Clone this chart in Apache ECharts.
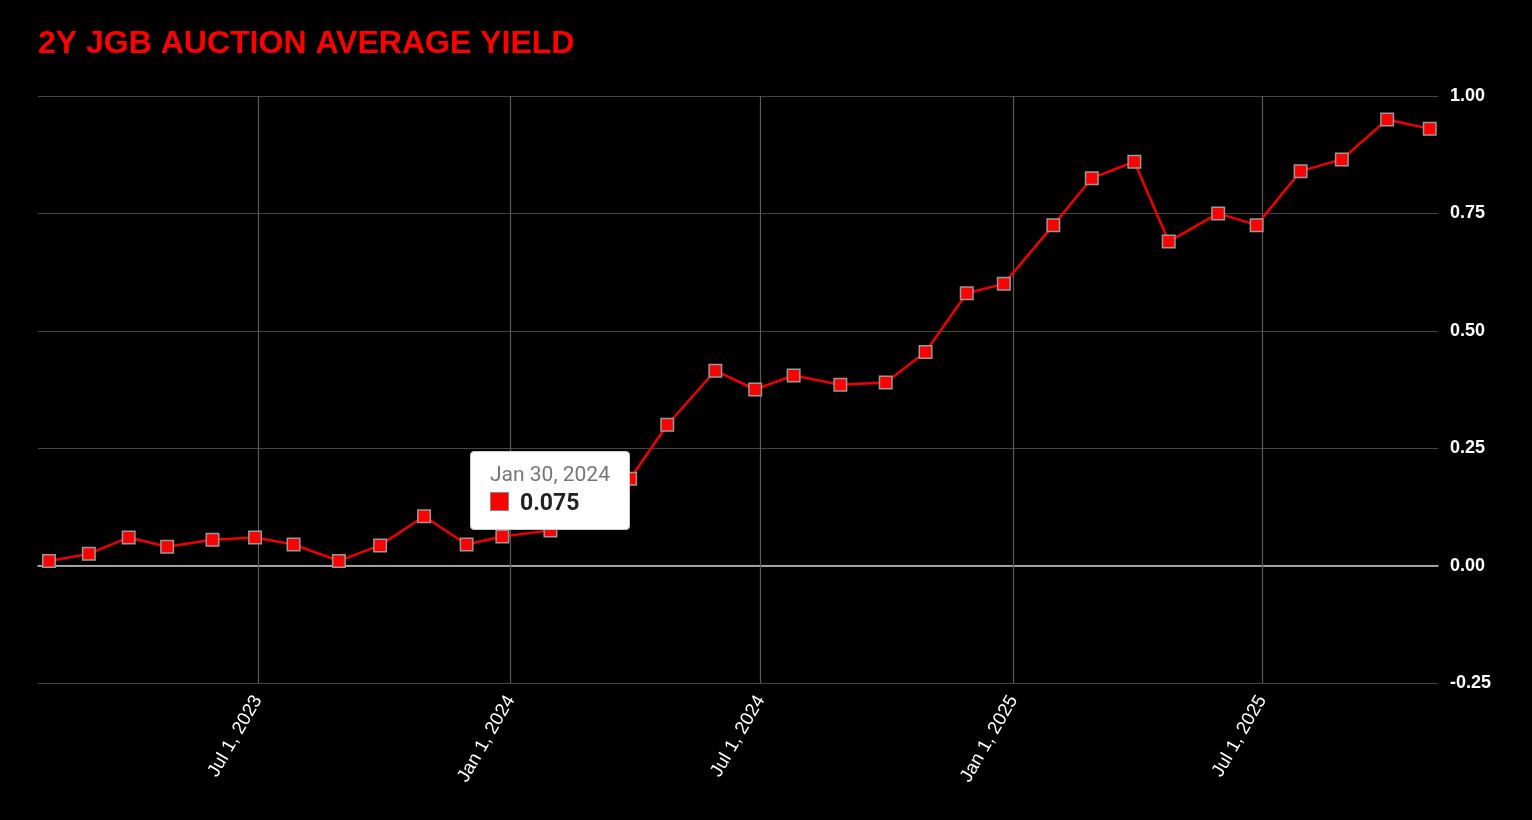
<!DOCTYPE html>
<html>
<head>
<meta charset="utf-8">
<script src="https://cdn.jsdelivr.net/npm/echarts@6/dist/echarts.min.js"></script>
<style>
html,body{margin:0;padding:0;background:#000;}
#chart{width:1532px;height:820px;}
</style>
</head>
<body>
<div id="chart"></div>
<script>
const auctionDates = [
  '2023-01-30','2023-02-28','2023-03-29','2023-04-26','2023-05-29','2023-06-29',
  '2023-07-27','2023-08-29','2023-09-28','2023-10-30','2023-11-30','2023-12-26',
  '2024-01-30','2024-02-29','2024-03-28','2024-04-24','2024-05-29','2024-06-27',
  '2024-07-25','2024-08-28','2024-09-30','2024-10-29','2024-11-28','2024-12-25',
  '2025-01-30','2025-02-27','2025-03-30','2025-04-24','2025-05-30','2025-06-27',
  '2025-07-29','2025-08-28','2025-09-30','2025-10-31'
];
const avgYields = [
  0.01,0.025,0.06,0.04,0.055,0.06,
  0.045,0.01,0.043,0.105,0.045,0.062,
  0.075,0.14,0.185,0.30,0.415,0.375,
  0.405,0.385,0.39,0.455,0.58,0.60,
  0.725,0.825,0.86,0.69,0.75,0.725,
  0.84,0.865,0.95,0.93
];
const xTickDates = ['2023-07-01','2024-01-01','2024-07-01','2025-01-01','2025-07-01'];
const yTicks = [-0.25, 0, 0.25, 0.5, 0.75, 1.0];
const titleText = '2Y JGB AUCTION AVERAGE YIELD';
const monthNames = ['Jan','Feb','Mar','Apr','May','Jun','Jul','Aug','Sep','Oct','Nov','Dec'];

function fmtDate(v){
  const d = new Date(v);
  return monthNames[d.getUTCMonth()] + ' ' + d.getUTCDate() + ', ' + d.getUTCFullYear();
}
function toTs(s){ return Date.parse(s + 'T00:00:00Z'); }

const seriesData = auctionDates.map((d,i)=>[toTs(d), avgYields[i]]);
const tickTs = xTickDates.map(toTs);

const chart = echarts.init(document.getElementById('chart'), null, {renderer:'canvas'});
chart.setOption({
  backgroundColor:'#000',
  animation:false,
  title:{
    text:titleText,
    left:33, top:23,
    textStyle:{color:'#ff0000', fontFamily:'Liberation Sans, Arial', fontWeight:'bold', fontSize:32}
  },
  grid:{left:38, right:94, top:96, bottom:137, containLabel:false},
  tooltip:{
    trigger:'item',
    triggerOn:'none',
    alwaysShowContent:true,
    backgroundColor:'#fff',
    borderColor:'#ccc',
    borderWidth:1,
    borderRadius:4,
    padding:[9,19,10,19],
    extraCssText:'box-shadow:none;',
    position:function(point, params, dom, rect, size){
      return [point[0]-size.contentSize[0]/2, point[1]-size.contentSize[1]];
    },
    formatter:function(p){
      return '<div style="font-family:Roboto,sans-serif;font-size:21px;color:#777;line-height:26px;">' + fmtDate(p.value[0]) + '</div>' +
        '<div style="font-family:Roboto,sans-serif;font-size:23px;font-weight:bold;color:#222;line-height:32px;">' +
        '<span style="display:inline-block;width:17px;height:17px;background:#ff0000;border:1px solid #888;vertical-align:-1px;margin-right:11px;"></span>' +
        p.value[1].toFixed(3) + '</div>';
    }
  },
  xAxis:{
    type:'value',
    min:toTs('2023-01-22'),
    max:toTs('2025-11-06'),
    axisLine:{show:true, onZero:true, lineStyle:{color:'#cccccc', width:1.5}},
    axisTick:{show:false},
    splitLine:{show:false},
    axisLabel:{
      color:'#fff', fontFamily:'Liberation Sans, Arial', fontSize:18.5, rotate:60, margin:14,
      customValues:tickTs,
      formatter:function(v){ return fmtDate(v); }
    }
  },
  yAxis:{
    type:'value',
    position:'right',
    min:yTicks[0], max:yTicks[yTicks.length-1], interval:0.25,
    axisLine:{show:false},
    axisTick:{show:false},
    splitLine:{show:true, lineStyle:{color:'#444', width:1.2}},
    axisLabel:{
      color:'#fff', fontFamily:'Liberation Sans, Arial', fontWeight:'bold', fontSize:18, margin:12,
      formatter:function(v){ return v.toFixed(2); }
    }
  },
  series:[{
    type:'line',
    data:seriesData,
    symbol:'rect',
    symbolSize:12.5,
    lineStyle:{color:'#ee0000', width:2.5},
    itemStyle:{color:'#ff0000', borderColor:'#999', borderWidth:1.5},
    z:5,
    markLine:{
      silent:true,
      symbol:'none',
      label:{show:false},
      z:1,
      lineStyle:{color:'#5a5a5a', type:'solid', width:1.2},
      emphasis:{disabled:true},
      data:tickTs.map(t=>({xAxis:t}))
    }
  }]
});
setTimeout(function(){
  chart.dispatchAction({type:'showTip', seriesIndex:0, dataIndex:12});
}, 50);
chart.dispatchAction({type:'showTip', seriesIndex:0, dataIndex:12});
</script>
</body>
</html>
